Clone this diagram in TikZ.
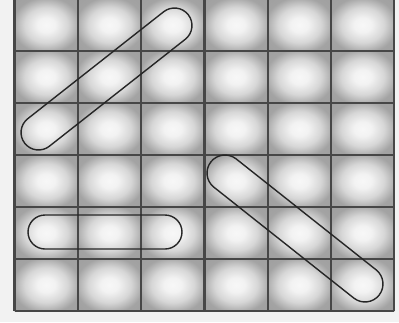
\documentclass[tikz,border=0pt]{standalone}
\pgfdeclareradialshading{cellglow}{\pgfpoint{0bp}{0bp}}{%
  color(0bp)=(white!97!black); color(7bp)=(white!95!black); color(17bp)=(black!16);
  color(27bp)=(black!36); color(50bp)=(black!40)}
\begin{document}
\begin{tikzpicture}[x=1pt, y=-1pt,
    gridline/.style={line width=2.2pt, black!72},
    capsule/.style={line width=1.4pt, black!85}]
    % paper
    \fill[black!5] (0,0) rectangle (399,322);
    \useasboundingbox (0,0) rectangle (399,322);
    \clip (0,0) rectangle (399,322);

    % shaded cells
    \foreach \i in {0,...,5}
      \foreach \j in {0,...,5}
        \shade[shading=cellglow] ({14.5+63.3*\i},{-1+52*\j}) rectangle ++(63.3,52);

    % grid lines
    \foreach \i in {0,...,6}
      \draw[gridline] ({14.5+63.3*\i},-1) -- ({14.5+63.3*\i},311);
    \foreach \j in {0,...,6}
      \draw[gridline] (14.5,{-1+52*\j}) -- (394.3,{-1+52*\j});

    % rising capsule
    \draw[capsule, rounded corners=17.5pt, shift={(106.5,79)}, rotate=38.2]
      (-104,-17.5) rectangle (104,17.5);

    % flat capsule
    \draw[capsule, rounded corners=17pt] (28,215) rectangle (182,249);

    % falling capsule
    \draw[capsule, rounded corners=18pt, shift={(295,228.5)}, rotate=-38.4]
      (-107.3,-18) rectangle (107.3,18);
\end{tikzpicture}
\end{document}
